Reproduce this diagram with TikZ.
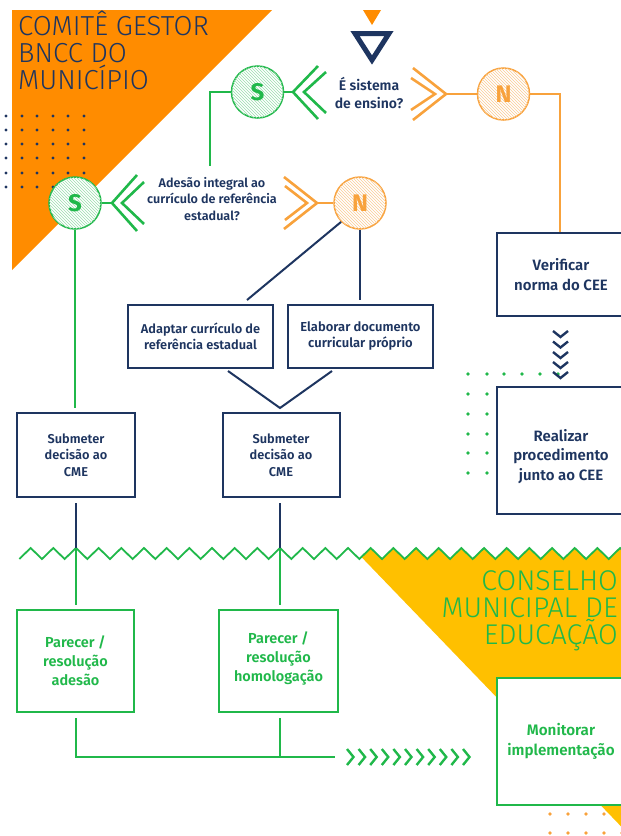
\documentclass[tikz,border=0pt]{standalone}
\usepackage{fontspec}
\setmainfont{Fira Sans}[BoldFont={Fira Sans SemiBold}]
\newfontfamily\lightfont{Fira Sans Light}
\newfontfamily\heavyfont{Fira Sans Bold}
\usetikzlibrary{patterns}
\definecolor{navy}{RGB}{30,53,96}
\definecolor{gr}{RGB}{32,184,74}
\definecolor{orT}{RGB}{255,140,0}
\definecolor{orL}{RGB}{248,162,60}
\definecolor{yel}{RGB}{255,192,0}
\begin{document}
\begin{tikzpicture}[x=1pt,y=-1pt,line join=miter,
  nbox/.style={draw=navy,line width=2pt,fill=white,text=navy,align=center,inner sep=0pt},
  gbox/.style={draw=gr,line width=2pt,fill=white,text=gr,align=center,inner sep=0pt},
  circ/.style={circle,line width=1.5pt,minimum size=52pt,inner sep=0pt,fill=white,font=\heavyfont\fontsize{24}{24}\selectfont},
  scirc/.style={circ,draw=gr,text=gr,postaction={pattern=north west lines,pattern color=gr!45}},
  ncirc/.style={circ,draw=orL,text=orL,postaction={pattern=north west lines,pattern color=orL!55}},
  gline/.style={draw=gr,line width=2pt},
  oline/.style={draw=orL,line width=2pt},
  nline/.style={draw=navy,line width=2pt},
  chev/.style={line width=2.6pt,line cap=butt},
  ndot/.style={fill=navy},
  gdot/.style={fill=gr},
  odot/.style={fill=orL}]
\useasboundingbox (0,0) rectangle (621,836);
\clip (0,0) rectangle (621,836);

% orange triangle and title
\fill[orT] (12,10) -- (272,10) -- (12,270) -- cycle;
\node[anchor=north west,inner sep=0pt,align=left,text=navy,font=\lightfont\fontsize{27.5}{27}\selectfont] (title1) at (18,11) {COMITÊ GESTOR\\BNCC DO\\MUNICÍPIO};
\foreach \yy in {116,130,144,158,173,187} \foreach \xx in {6,22,37,53,68,84} \fill[ndot] (\xx,\yy) circle (1.6);

% yellow region
\begin{scope}
  \clip (345,540) -- (700,540) -- (700,900) -- (692,900) -- cycle;
  \fill[yel] (19.3,559) \foreach \k in {0,...,27} { -- ({19.3+(\k+0.5)*22.67},548) -- ({19.3+(\k+1)*22.67},559) } -- (660,900) -- (19,900) -- cycle;
\end{scope}
\draw[gline,line width=1.8pt] (19.3,559) \foreach \k in {0,...,27} { -- ({19.3+(\k+0.5)*22.67},548) -- ({19.3+(\k+1)*22.67},559) };
\node[anchor=north east,inner sep=0pt,align=right,text=gr,font=\lightfont\fontsize{28.5}{27}\selectfont] (title2) at (618,570) {CONSELHO\\MUNICIPAL DE\\EDUCAÇÃO};

% start marks
\fill[orT] (363,10) -- (381,10) -- (372,25) -- cycle;
\draw[navy,line width=5pt] (355,33.5) -- (389,33.5) -- (372,60) -- cycle;

% question 1
\node[text=navy,align=center,inner sep=0pt,font=\bfseries\fontsize{14}{18}\selectfont] (q1) at (369,93) {É sistema\\de ensino?};
\node[scirc] (s2) at (257.5,92) {S};
\node[ncirc] (n1) at (503.5,94) {N};
\coordinate (q1l) at (293,92);
\coordinate (q1r) at (446,94);
\draw[gr,chev] (318,66) -- (q1l) -- (318,119);
\draw[gr,chev] (326,72) -- (304,92) -- (326,113);
\draw[orL,chev] (413,68) -- (q1r) -- (413,120);
\draw[orL,chev] (411,78) -- (435,94) -- (411,110);
\draw[gline] (s2) -- (q1l);
\draw[oline] (q1r) -- (n1);
\coordinate (g1end) at (210,166);
\draw[gline] (s2.west) -- (210,92) -- (g1end);

% question 2
\node[text=navy,align=center,inner sep=0pt,font=\bfseries\fontsize{12.6}{16.5}\selectfont] (q2) at (212,199) {Adesão integral ao\\currículo de referência\\estadual?};
\node[scirc] (s1) at (75,203) {S};
\node[ncirc] (n2) at (360,203) {N};
\coordinate (q2l) at (112,203);
\coordinate (q2r) at (317,203);
\draw[gr,chev] (137,175) -- (q2l) -- (137,231);
\draw[gr,chev] (144,182) -- (122,203) -- (144,224);
\draw[orL,chev] (284,177) -- (q2r) -- (284,229);
\draw[orL,chev] (285,186) -- (307,203) -- (285,220);
\draw[gline] (s1) -- (q2l);
\draw[oline] (q2r) -- (n2);

% right column
\node[nbox,minimum width=128pt,minimum height=83pt,font=\bfseries\fontsize{15}{20}\selectfont] (ver) at (561,274.5) {Verificar\\norma do CEE};
\draw[oline] (n1.east) -- (560,94) -- (ver.north -| 560,0);
\foreach \yy in {374} \foreach \xx in {468,487,504,522,540,558} \fill[gdot] (\xx,\yy) circle (1.8);
\foreach \yy in {394,414,434,453,473} \foreach \xx in {468,487} \fill[gdot] (\xx,\yy) circle (1.8);
\node[nbox,minimum width=128pt,minimum height=127pt,
  label={[name=realtxt,text=navy,align=center,inner sep=0pt,yshift=-6pt,font=\bfseries\fontsize{15}{19.5}\selectfont]center:Realizar\\procedimento\\junto ao CEE}] (real) at (561,450.5) {};
\foreach \yy in {331,341.5,352,362,372} \draw[navy,chev,line width=2.4pt] (553,\yy) -- (560.5,\yy+6) -- (568,\yy);

% middle boxes
\node[nbox,minimum width=145pt,minimum height=63pt,font=\bfseries\fontsize{12.8}{16}\selectfont] (adap) at (200.5,336.5) {Adaptar currículo de\\referência estadual};
\node[nbox,minimum width=145pt,minimum height=63pt,font=\bfseries\fontsize{13}{16}\selectfont] (elab) at (360.5,336.5) {Elaborar documento\\curricular próprio};
\coordinate (adTop) at (247,300);
\coordinate (elTop) at (360,300);
\draw[nline] (n2.225) -- (adTop);
\draw[nline] (n2.south) -- (elTop);

\node[nbox,minimum width=118pt,minimum height=84pt,font=\bfseries\fontsize{12.8}{16.5}\selectfont] (sub1) at (76,455) {Submeter\\decisão ao\\CME};
\node[nbox,minimum width=117pt,minimum height=84pt,font=\bfseries\fontsize{12.8}{16.5}\selectfont] (sub2) at (281,455) {Submeter\\decisão ao\\CME};
\coordinate (vL) at (228,371);
\coordinate (vR) at (332,371);
\coordinate (vApex) at (280,408);
\draw[nline] (vL) -- (vApex) -- (vR);
\coordinate (g2end) at (75,408);
\draw[gline] (s1.south) -- (g2end);

\coordinate (pk1) at (76,548);
\coordinate (pk2) at (280,548);
\draw[nline,shorten <=5pt] (sub1.south -| pk1) -- (pk1);
\draw[nline,shorten <=5pt] (sub2.south -| pk2) -- (pk2);

% council boxes
\node[gbox,minimum width=117pt,minimum height=102pt,font=\bfseries\fontsize{14.5}{19}\selectfont] (par1) at (75.5,661) {Parecer /\\resolução\\adesão};
\node[gbox,minimum width=119pt,minimum height=102pt,
  label={[name=par2txt,text=gr,align=center,inner sep=0pt,yshift=3pt,font=\bfseries\fontsize{14.5}{19}\selectfont]center:Parecer /\\resolução\\homologação}] (par2) at (278.5,661) {};
\draw[gline,shorten >=4pt] (pk1) -- (pk1 |- par1.north);
\draw[gline,shorten >=4pt] (pk2) -- (pk2 |- par2.north);
\coordinate (join) at (335,757);
\draw[gline,shorten <=5pt] (par1.south -| pk1) -- (pk1 |- join) -- (join);
\draw[gline,shorten <=5pt] (par2.south -| pk2) -- (pk2 |- join);
\foreach \i in {0,...,10} \draw[gr,chev,line width=2.4pt] ({347+\i*11.6},749) -- ({353.5+\i*11.6},757) -- ({347+\i*11.6},765);

\node[gbox,minimum width=128pt,minimum height=127pt,font=\bfseries\fontsize{15.2}{20}\selectfont] (mon) at (561,741.5) {Monitorar\\implementação};
\foreach \yy in {814,833} \foreach \xx in {550,568,586,604,622} \fill[odot] (\xx,\yy) circle (1.8);
\end{tikzpicture}
\end{document}
